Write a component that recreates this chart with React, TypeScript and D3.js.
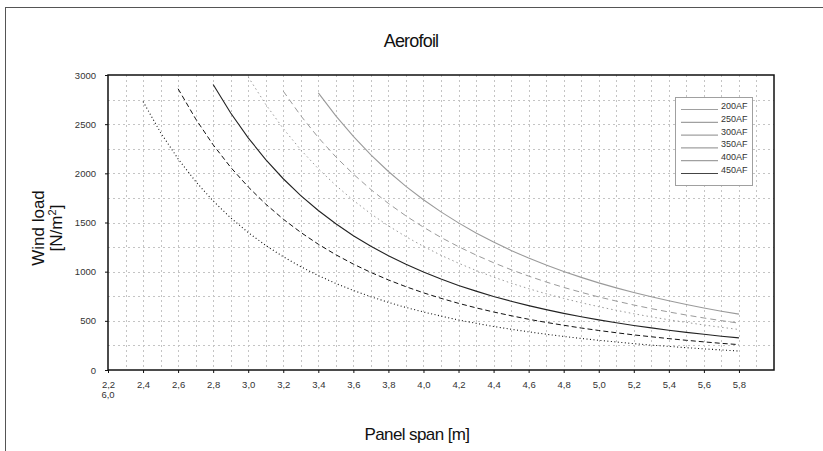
import React, { useEffect, useRef } from 'react';
import * as d3 from 'd3';

// panel spans [m], shared by all series (each series ends at 5.8)
const spans = [
  2.4, 2.5, 2.6, 2.7, 2.8, 2.9, 3.0, 3.1, 3.2, 3.3, 3.4, 3.5, 3.6, 3.7, 3.8, 3.9,
  4.0, 4.1, 4.2, 4.3, 4.4, 4.5, 4.6, 4.7, 4.8, 4.9, 5.0, 5.1, 5.2, 5.3, 5.4, 5.5,
  5.6, 5.7, 5.8,
];

const xTicks = [2.2, 2.4, 2.6, 2.8, 3.0, 3.2, 3.4, 3.6, 3.8, 4.0, 4.2, 4.4, 4.6, 4.8, 5.0, 5.2, 5.4, 5.6, 5.8];
const yTicks = [0, 500, 1000, 1500, 2000, 2500, 3000];

const seriesNames = ['200AF', '250AF', '300AF', '350AF', '400AF', '450AF'];

// wind load [N/m²]
const af200 = [
  2730, 2415, 2147, 1917, 1719, 1547, 1398, 1267, 1152, 1050, 960, 880, 809, 745, 688, 636,
  590, 548, 509, 475, 443, 414, 388, 364, 341, 321, 302, 285, 268, 253, 240, 227, 215, 204, 193,
];
const af250 = [
  2860, 2554, 2290, 2061, 1862, 1687, 1534, 1399, 1279, 1172, 1077, 992, 916, 847,
  785, 729, 678, 632, 590, 552, 516, 484, 455, 427, 402, 379, 357, 338, 319, 302, 286, 271, 258,
];
const af300 = [
  2904, 2614, 2361, 2140, 1945, 1774, 1622, 1487, 1366, 1259, 1162, 1075,
  996, 925, 860, 802, 748, 700, 655, 614, 576, 542, 510, 481, 453, 428, 405, 383, 363, 344, 327,
];
const af350 = [
  2980, 2701, 2455, 2239, 2047, 1877, 1725, 1588, 1466, 1356,
  1257, 1167, 1086, 1012, 945, 883, 827, 775, 728, 684, 644, 607, 572, 540, 511, 484, 458, 434, 412,
];
const af400 = [
  2836, 2586, 2364, 2167, 1992, 1835, 1694, 1567,
  1452, 1348, 1254, 1169, 1091, 1020, 955, 895, 840, 790, 743, 701, 661, 624, 590, 559, 529, 502, 476,
];
const af450 = [
  2819, 2584, 2375, 2187, 2019, 1868,
  1731, 1608, 1496, 1394, 1301, 1216, 1138, 1067, 1002, 942, 886, 835, 788, 744, 704, 666, 631, 598, 568,
];

const seriesValues = [af200, af250, af300, af350, af400, af450];

const lineStyles = [
  { color: '#111', dash: '1,2.5', width: 1.1 },
  { color: '#111', dash: '5,3', width: 1 },
  { color: '#222', dash: null, width: 1.1 },
  { color: '#9a9a9a', dash: '1.5,3', width: 1 },
  { color: '#9a9a9a', dash: '6,4', width: 1 },
  { color: '#9a9a9a', dash: null, width: 1.1 },
];
const legendColors = ['#a0a0a0', '#a0a0a0', '#a0a0a0', '#a0a0a0', '#a0a0a0', '#444'];

const fmt = (v: number) => v.toFixed(1).replace('.', ',');

const AerofoilChart = () => {
  const svgRef = useRef<SVGSVGElement>(null);

  useEffect(() => {
    const width = 823;
    const height = 451;
    const margin = { top: 75, right: 49, bottom: 81, left: 108 };

    const svg = d3.select(svgRef.current);
    svg.selectAll('*').remove();
    svg.attr('width', width).attr('height', height);

    const font = 'Liberation Sans, Arial, sans-serif';
    const textColor = '#333';

    // outer frame
    svg.append('rect')
      .attr('x', 5.5).attr('y', 7.5)
      .attr('width', width + 10).attr('height', height + 10)
      .attr('fill', '#fff').attr('stroke', '#555');

    const x = d3.scaleLinear().domain([2.2, 6.0]).range([margin.left, width - margin.right]);
    const y = d3.scaleLinear().domain([0, 3000]).range([height - margin.bottom, margin.top]);

    const g = svg.append('g');

    // grid
    g.selectAll('line.vgrid')
      .data(d3.range(23, 60).map(i => i / 10))
      .enter().append('line')
      .attr('x1', d => Math.round(x(d)) + 0.5).attr('x2', d => Math.round(x(d)) + 0.5)
      .attr('y1', y(3000)).attr('y2', y(0))
      .attr('stroke', '#c4c4c4').attr('stroke-dasharray', '2,3');
    g.selectAll('line.hgrid')
      .data(d3.range(250, 3000, 250))
      .enter().append('line')
      .attr('y1', d => Math.round(y(d)) + 0.5).attr('y2', d => Math.round(y(d)) + 0.5)
      .attr('x1', x(2.2)).attr('x2', x(6.0))
      .attr('stroke', '#c4c4c4').attr('stroke-dasharray', '2,3');

    // series
    const line = d3.line<[number, number]>().x(d => x(d[0])).y(d => y(d[1]));
    seriesValues.forEach((vals, i) => {
      const start = spans.length - vals.length;
      const pts = vals.map((v, j) => [spans[start + j], v] as [number, number]);
      const st = lineStyles[i];
      g.append('path')
        .attr('d', line(pts))
        .attr('fill', 'none')
        .attr('stroke', st.color)
        .attr('stroke-width', st.width)
        .attr('stroke-dasharray', st.dash);
    });

    // plot frame
    g.append('rect')
      .attr('x', x(2.2)).attr('y', y(3000))
      .attr('width', x(6.0) - x(2.2)).attr('height', y(0) - y(3000))
      .attr('fill', 'none').attr('stroke', '#111').attr('stroke-width', 1.5);

    // x axis
    const xAxis = g.append('g').attr('transform', `translate(0,${y(0)})`)
      .call(d3.axisBottom(x).tickValues(xTicks).tickSize(3).tickFormat(d => fmt(+d)));
    xAxis.select('.domain').remove();
    xAxis.selectAll('line').attr('stroke', '#111');
    xAxis.selectAll('text')
      .attr('y', 11).style('font-family', font).style('font-size', '9.5px').style('fill', textColor);
    // the first label wraps the last range value underneath
    xAxis.append('text')
      .attr('x', x(2.2)).attr('y', 28).attr('text-anchor', 'middle')
      .style('font-family', font).style('font-size', '9.5px').style('fill', textColor)
      .text(fmt(6.0));

    // y axis
    const yAxis = g.append('g').attr('transform', `translate(${x(2.2)},0)`)
      .call(d3.axisLeft(y).tickValues(yTicks).tickSize(3).tickFormat(d => String(d)));
    yAxis.select('.domain').remove();
    yAxis.selectAll('line').attr('stroke', '#111');
    yAxis.selectAll('text')
      .attr('x', -12).style('font-family', font).style('font-size', '9.5px').style('fill', textColor);

    // title and axis titles
    svg.append('text')
      .attr('x', 411).attr('y', 47).attr('text-anchor', 'middle')
      .style('font-family', font).style('font-size', '18px').style('letter-spacing', '-0.8px').style('fill', '#111')
      .text('Aerofoil');
    svg.append('text')
      .attr('x', 417).attr('y', 440).attr('text-anchor', 'middle')
      .style('font-family', font).style('font-size', '17px').style('letter-spacing', '-0.6px').style('fill', '#111')
      .text('Panel span [m]');
    const yt = svg.append('text')
      .attr('transform', 'translate(44,228) rotate(-90)').attr('text-anchor', 'middle')
      .style('font-family', font).style('font-size', '17px').style('fill', '#111');
    yt.append('tspan').attr('x', 0).attr('y', 0).text('Wind load');
    const t2 = yt.append('tspan').attr('x', 0).attr('y', 18).text('[N/m');
    t2.append('tspan').attr('dy', -6).style('font-size', '11px').text('2');
    t2.append('tspan').attr('dy', 6).text(']');

    // legend
    const leg = svg.append('g');
    leg.append('rect')
      .attr('x', 675.5).attr('y', 97.5).attr('width', 77).attr('height', 88)
      .attr('fill', '#fff').attr('stroke', '#a0a0a0');
    seriesNames.forEach((name, i) => {
      const ly = 109.5 + i * 12.8;
      leg.append('line')
        .attr('x1', 681).attr('x2', 718).attr('y1', ly).attr('y2', ly)
        .attr('stroke', legendColors[i]).attr('stroke-width', 1.2);
      leg.append('text')
        .attr('x', 721).attr('y', ly - 0.5)
        .style('font-family', font).style('font-size', '9px').style('fill', textColor)
        .text(name);
    });
  }, []);

  return <svg ref={svgRef} style={{ position: 'absolute', left: 0, top: 0 }} />;
};

export default function App() {
  return <AerofoilChart />;
}
